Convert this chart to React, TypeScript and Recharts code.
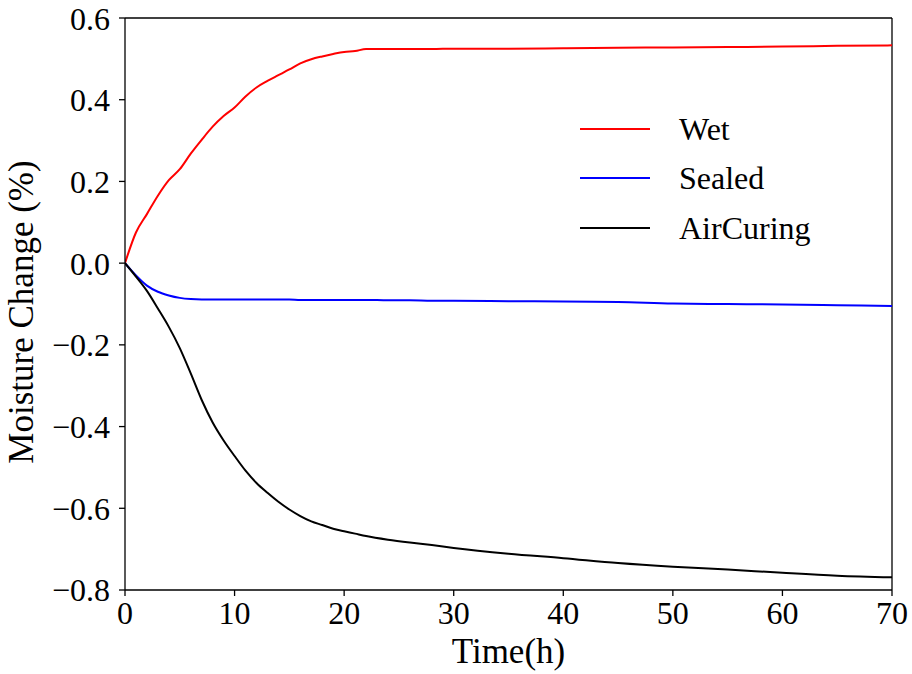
import React from 'react';
import { LineChart, Line, XAxis, YAxis, Label, ReferenceLine } from 'recharts';

const times = [0, 1, 2, 3, 4, 5, 6, 7, 8, 9, 10, 11, 12, 13, 14, 15, 16, 17, 18, 19, 20, 21, 22, 24, 26, 28, 30, 35, 40, 45, 50, 55, 60, 65, 70];
const wet = [0, 0.075, 0.12, 0.165, 0.203, 0.23, 0.268, 0.302, 0.334, 0.36, 0.381, 0.408, 0.43, 0.446, 0.46, 0.474, 0.489, 0.499, 0.506, 0.512, 0.517, 0.519, 0.524, 0.524, 0.524, 0.524, 0.525, 0.525, 0.526, 0.527, 0.528, 0.529, 0.53, 0.532, 0.533];
const sealed = [0, -0.03, -0.055, -0.07, -0.079, -0.085, -0.088, -0.089, -0.089, -0.089, -0.089, -0.089, -0.089, -0.089, -0.089, -0.089, -0.09, -0.09, -0.09, -0.09, -0.09, -0.09, -0.09, -0.091, -0.091, -0.092, -0.092, -0.093, -0.094, -0.095, -0.099, -0.1, -0.101, -0.103, -0.105];
const airCuring = [0, -0.033, -0.068, -0.111, -0.156, -0.208, -0.27, -0.335, -0.39, -0.434, -0.472, -0.508, -0.538, -0.562, -0.584, -0.603, -0.619, -0.632, -0.641, -0.65, -0.656, -0.662, -0.668, -0.677, -0.684, -0.69, -0.697, -0.711, -0.722, -0.734, -0.743, -0.75, -0.758, -0.765, -0.769];

const xTicks = [0, 10, 20, 30, 40, 50, 60, 70];
const yTicks = [-0.8, -0.6, -0.4, -0.2, 0.0, 0.2, 0.4, 0.6];

const seriesNames = ['Wet', 'Sealed', 'AirCuring'];
const seriesColors = ['#ff0000', '#0000ff', '#000000'];

const data = times.map((t, i) => ({ t, Wet: wet[i], Sealed: sealed[i], AirCuring: airCuring[i] }));

const FONT = 'Liberation Serif';

const fmtY = (v: number) => {
  const s = Math.abs(v) < 1e-9 ? '0.0' : v.toFixed(1);
  return s.replace('-', '\u2212');
};

const YTitle = (props: any) => {
  const vb = props.viewBox || {};
  const cx = 33;
  const cy = vb.y + vb.height / 2 + 8;
  return (
    <text x={cx} y={cy} transform={`rotate(-90, ${cx}, ${cy})`} textAnchor="middle" style={{ fontFamily: FONT }} fontSize={35} fill="#000">
      Moisture Change (%)
    </text>
  );
};

const LegendBox = () => (
  <div style={{ position: 'absolute', left: 580, top: 104, fontFamily: FONT, fontSize: 32, color: '#000' }}>
    {seriesNames.map((n, i) => (
      <div key={n} style={{ display: 'flex', alignItems: 'center', height: 49.5 }}>
        <svg width={70} height={6} style={{ display: 'block' }}>
          <line x1={0} y1={3} x2={70} y2={3} stroke={seriesColors[i]} strokeWidth={2} />
        </svg>
        <span style={{ marginLeft: 29, lineHeight: '32px' }}>{n}</span>
      </div>
    ))}
  </div>
);

const tickStyle = { fill: '#000', fontSize: 32, style: { fontFamily: FONT } };

export default function App() {
  return (
    <div style={{ position: 'absolute', left: 0, top: 0, width: 912, height: 674, background: '#fff', fontFamily: FONT }}>
      <LineChart width={912} height={674} data={data} margin={{ top: 18, right: 20, bottom: 0, left: 0 }} style={{ fontFamily: FONT }}>
        <XAxis
          dataKey="t"
          type="number"
          domain={[0, 70]}
          ticks={xTicks}
          allowDataOverflow
          height={84}
          tickSize={6}
          tickMargin={5}
          stroke="#000"
          tick={tickStyle}
          axisLine={{ stroke: '#000', strokeWidth: 1.3 }}
          tickLine={{ stroke: '#000', strokeWidth: 1.3 }}
        >
          <Label value="Time(h)" position="insideBottom" offset={11} style={{ fontFamily: FONT, fontSize: 35, fill: '#000' }} />
        </XAxis>
        <YAxis
          type="number"
          domain={[-0.8, 0.6]}
          ticks={yTicks}
          allowDataOverflow
          width={125}
          tickSize={6}
          tickMargin={9}
          tickFormatter={fmtY}
          tick={tickStyle}
          axisLine={{ stroke: '#000', strokeWidth: 1.3 }}
          tickLine={{ stroke: '#000', strokeWidth: 1.3 }}
        >
          <Label content={<YTitle />} />
        </YAxis>
        <ReferenceLine y={0.6} stroke="#000" strokeWidth={1.3} />
        <ReferenceLine x={70} stroke="#000" strokeWidth={1.3} />
        {seriesNames.map((n, i) => (
          <Line key={n} dataKey={n} type="monotone" stroke={seriesColors[i]} strokeWidth={2} dot={false} isAnimationActive={false} />
        ))}
      </LineChart>
      <LegendBox />
    </div>
  );
}
